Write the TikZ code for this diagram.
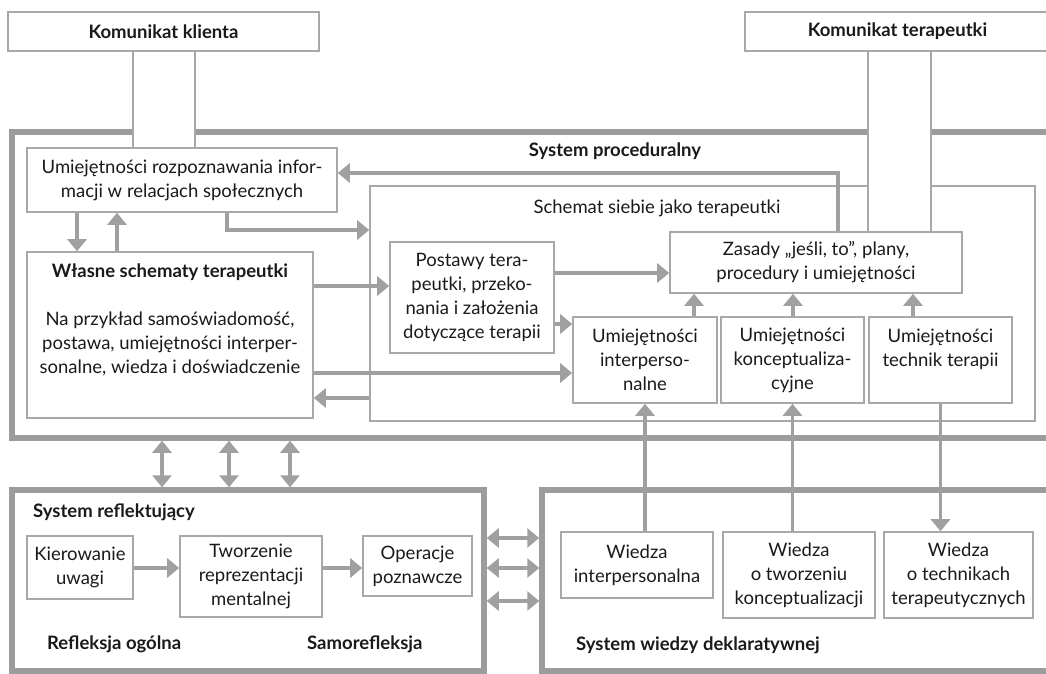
\documentclass[tikz,border=0pt]{standalone}
\usepackage{fontspec}
\setmainfont{Lato}
\usetikzlibrary{arrows.meta}
\definecolor{boxc}{RGB}{168,168,168}
\definecolor{arrc}{RGB}{160,160,160}
\definecolor{thkc}{RGB}{156,156,156}
\definecolor{txtc}{RGB}{26,26,26}
\pgfdeclarelayer{back}
\pgfdeclarelayer{mid}
\pgfsetlayers{back,mid,main}
\begin{document}
\begin{tikzpicture}[x=1pt,y=-1pt,
  txt/.style={font=\fontsize{18.5}{24}\selectfont, text=txtc, inner sep=0pt, align=center},
  btxt/.style={txt, font=\fontsize{18.5}{24}\selectfont\bfseries},
  box/.style={txt, draw=boxc, line width=1.6pt, fill=white, outer sep=0.8pt},
  bbox/.style={box, font=\fontsize{18.5}{24}\selectfont\bfseries},
  thk/.style={draw=thkc, line width=5.5pt, outer sep=2.75pt},
  pipe/.style={draw=boxc, line width=1.6pt},
  arr/.style={draw=arrc, line width=3.5pt, -{Triangle[width=19pt,length=12pt]}},
  darr/.style={draw=arrc, line width=3.5pt, {Triangle[width=19pt,length=12pt]}-{Triangle[width=19pt,length=12pt]}}]
\useasboundingbox (0,0) rectangle (1046,673);
% helper coordinates
\foreach \xx in {77,117,133,162,195,227,229,290,694,793,838,868,913,931}{\coordinate (c\xx) at (\xx,0);}
\foreach \yy in {173,230,273,286,324,373,398,538,568,601}{\coordinate (y\yy) at (0,\yy);}
\begin{pgfonlayer}{back}
\fill[white] (0,0) rectangle (1046,673);
\node[thk, minimum width=1060, minimum height=306] (proc) at (542,285) {};
\node[thk, minimum width=472, minimum height=181] (refl) at (248,580.5) {};
\node[thk, minimum width=530, minimum height=181] (wied) at (807,580.5) {};
\node[box, minimum width=665, minimum height=235] (sch) at (702.5,303.5) {};
\end{pgfonlayer}
% titles
\node[btxt] (proct) at (615,151) {System proceduralny};
\node[txt] (scht) at (657,208) {Schemat siebie jako terapeutki};
\node[btxt, anchor=west] (reflt) at (33,512) {System reflektujący};
\node[btxt, anchor=west] (rot) at (47,644) {Refleksja ogólna};
\node[btxt, anchor=west] (srt) at (307,644) {Samorefleksja};
\node[btxt, anchor=west] (wdt) at (576,645) {System wiedzy deklaratywnej};
% boxes
\node[bbox, minimum width=311, minimum height=39] (kl) at (163.5,31.5) {Komunikat klienta};
\node[bbox, minimum width=305, minimum height=39] (tp) at (897.5,31.5) {Komunikat terapeutki};
\node[box, minimum width=310, minimum height=64] (rozp) at (182,180) {Umiejętności rozpoznawania infor-\\macji w relacjach społecznych};
\node[box, minimum width=286, minimum height=166] (wl) at (170,335) {};
\node[txt] (wlt) at (170,320) {\textbf{Własne schematy terapeutki}\\[24pt]Na przykład samoświadomość,\\postawa, umiejętności interper-\\sonalne, wiedza i doświadczenie};
\node[box, minimum width=164, minimum height=111] (pos) at (472,297.5) {Postawy tera-\\peutki, przeko-\\nania i założenia\\dotyczące terapii};
\node[box, minimum width=292, minimum height=61] (zas) at (816,262.5) {Zasady „jeśli, to”, plany,\\procedury i umiejętności};
\node[box, minimum width=144, minimum height=86] (ui) at (645,360) {Umiejętności\\interperso-\\nalne};
\node[box, minimum width=143, minimum height=86] (uk) at (792.5,360) {Umiejętności\\konceptualiza-\\cyjne};
\node[box, minimum width=143, minimum height=86] (ut) at (940.5,360) {Umiejętności\\technik terapii\\\mbox{}};
\node[box, minimum width=106, minimum height=63] (kier) at (80,567.5) {Kierowanie\\uwagi};
\node[box, minimum width=142, minimum height=81] (tw) at (251,576.5) {Tworzenie\\reprezentacji\\mentalnej};
\node[box, minimum width=109, minimum height=60] (op) at (417.5,566) {Operacje\\poznawcze};
\node[box, minimum width=152, minimum height=66] (w1) at (637,565) {Wiedza\\interpersonalna};
\node[box, minimum width=152, minimum height=86] (w2) at (799,575) {Wiedza\\o tworzeniu\\konceptualizacji};
\node[box, minimum width=149, minimum height=86] (w3) at (958.5,575) {Wiedza\\o technikach\\terapeutycznych};
% pipes
\begin{pgfonlayer}{mid}
\fill[white] (kl.south -| c133) rectangle (rozp.north -| c195);
\fill[white] (tp.south -| c868) rectangle (zas.north -| c931);
\end{pgfonlayer}
\draw[pipe] (kl.south -| c133) -- (rozp.north -| c133);
\draw[pipe] (kl.south -| c195) -- (rozp.north -| c195);
\draw[pipe] (tp.south -| c868) -- (zas.north -| c868);
\draw[pipe] (tp.south -| c931) -- (zas.north -| c931);
% arrows
\draw[arr] (rozp.south -| c77) -- (wl.north -| c77);
\draw[arr] (wl.north -| c117) -- (rozp.south -| c117);
\draw[arr] (rozp.south -| c227) |- (sch.west |- y230);
\draw[arr] (zas.north -| c838) |- (rozp.east |- y173);
\draw[arr] (wl.east |- y286) -- (pos.west |- y286);
\draw[arr] (wl.east |- y373) -- (ui.west |- y373);
\draw[arr] (sch.west |- y398) -- (wl.east |- y398);
\draw[arr] (pos.east |- y273) -- (zas.west |- y273);
\draw[arr] (pos.east |- y324) -- (ui.west |- y324);
\draw[arr] (ui.north -| c694) -- (zas.south -| c694);
\draw[arr] (uk.north -| c793) -- (zas.south -| c793);
\draw[arr] (ut.north -| c913) -- (zas.south -| c913);
\draw[arr] (w1.north -| ui.south) -- (ui.south);
\draw[arr] (w2.north -| uk.south) -- (uk.south);
\draw[arr] (ut.south) -- (w3.north -| ut.south);
\draw[arr] (kier.east |- y568) -- (tw.west |- y568);
\draw[arr] (tw.east |- y568) -- (op.west |- y568);
\draw[darr] (proc.south -| c162) -- (refl.north -| c162);
\draw[darr] (proc.south -| c229) -- (refl.north -| c229);
\draw[darr] (proc.south -| c290) -- (refl.north -| c290);
\draw[darr] (refl.east |- y538) -- (wied.west |- y538);
\draw[darr] (refl.east |- y568) -- (wied.west |- y568);
\draw[darr] (refl.east |- y601) -- (wied.west |- y601);
\end{tikzpicture}
\end{document}
